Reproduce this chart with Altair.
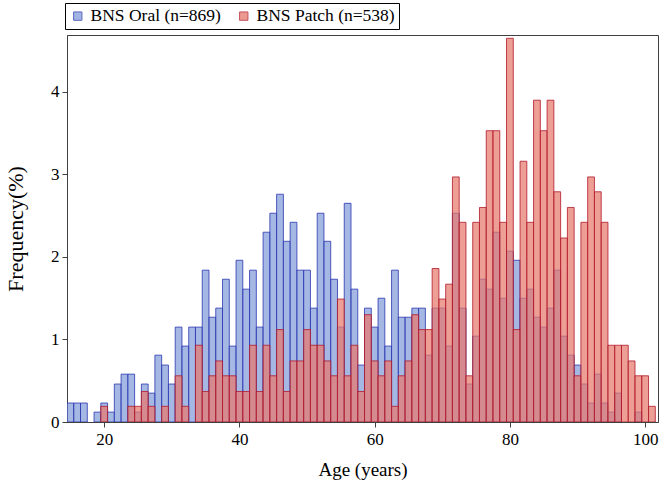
import altair as alt
import pandas as pd

ages = list(range(15, 102))
oral_pct = [0.23, 0.23, 0.23, 0.00, 0.12, 0.23, 0.12, 0.46, 0.58, 0.58,
            0.12, 0.46, 0.35, 0.81, 0.69, 0.46, 1.15, 0.92, 1.15, 1.15,
            1.84, 1.27, 1.38, 1.73, 0.92, 1.96, 1.61, 1.84, 1.15, 2.30,
            2.53, 2.76, 2.19, 2.42, 1.84, 1.84, 1.38, 2.53, 2.19, 1.73,
            1.15, 2.65, 1.61, 0.69, 1.38, 1.15, 1.50, 0.92, 1.84, 1.27,
            1.27, 1.38, 1.38, 0.81, 1.38, 1.38, 0.92, 2.53, 1.38, 0.46,
            1.04, 1.73, 1.61, 2.30, 1.50, 2.07, 1.96, 1.50, 1.61, 1.27,
            1.15, 1.38, 1.84, 1.04, 0.81, 0.69, 0.46, 0.23, 0.58, 0.23,
            0.12, 0.35, 0.00, 0.00, 0.12, 0.00, 0.00]
patch_pct = [0.00, 0.00, 0.00, 0.00, 0.00, 0.19, 0.00, 0.00, 0.00, 0.19,
             0.19, 0.37, 0.19, 0.00, 0.19, 0.00, 0.56, 0.19, 0.00, 0.93,
             0.37, 0.56, 0.74, 0.56, 0.56, 0.37, 0.37, 0.93, 0.37, 0.93,
             0.56, 1.12, 0.37, 0.74, 0.74, 1.12, 0.93, 0.93, 0.74, 0.56,
             1.49, 0.56, 0.93, 0.37, 1.30, 0.74, 0.56, 0.74, 0.19, 0.56,
             0.74, 1.30, 1.12, 1.12, 1.86, 1.49, 1.67, 2.97, 2.42, 0.56,
             2.42, 2.60, 3.53, 3.53, 2.42, 4.65, 1.12, 3.16, 2.42, 3.90,
             3.53, 3.90, 2.79, 2.23, 2.60, 0.56, 2.42, 2.97, 2.79, 2.42,
             0.93, 0.93, 0.93, 0.74, 0.56, 0.56, 0.19]

series_names = ["BNS Oral (n=869)", "BNS Patch (n=538)"]
fill_colors = ["#829CDA", "#E6786C"]
stroke_colors = ["#2A36B0", "#B2182B"]
x_ticks = [20, 40, 60, 80, 100]
y_ticks = [0, 1, 2, 3, 4]

rows = []
for name, vals in zip(series_names, [oral_pct, patch_pct]):
    for a, v in zip(ages, vals):
        rows.append({"age": a, "series": name, "pct": v})
df = pd.DataFrame(rows)
df = df[df["pct"] > 0].reset_index(drop=True)

SERIF = "Liberation Serif"

legend = alt.Legend(
    title=None, orient="none", legendX=-2, legendY=-32,
    direction="horizontal", strokeColor="black", padding=4,
    labelFont=SERIF, labelFontSize=17.5, labelColor="black",
    symbolType="square", symbolSize=70, symbolStrokeWidth=1,
    symbolOpacity=0.75, columnPadding=14, labelOffset=4,
)

chart = alt.Chart(df).transform_calculate(
    lo="datum.age - 0.5", hi="datum.age + 0.5"
).mark_bar(fillOpacity=0.72, strokeWidth=1, strokeOpacity=0.8, clip=True).encode(
    x=alt.X("lo:Q",
            scale=alt.Scale(domain=[14.5, 101.9], nice=False, zero=False),
            axis=alt.Axis(values=x_ticks, format="d", title="Age (years)",
                          tickSize=5, labelPadding=4, titlePadding=13)),
    x2="hi:Q",
    y=alt.Y("pct:Q", stack=None,
            scale=alt.Scale(domain=[0, 4.69], nice=False),
            axis=alt.Axis(values=y_ticks, format="d", title="Frequency(%)",
                          titleFontSize=22,
                          tickSize=5, labelPadding=3, titlePadding=23)),
    y2=alt.datum(0),
    fill=alt.Fill("series:N", scale=alt.Scale(domain=series_names, range=fill_colors), legend=legend),
    stroke=alt.Stroke("series:N", scale=alt.Scale(domain=series_names, range=stroke_colors), legend=legend),
    order=alt.Order("series:N"),
).properties(
    width=591, height=387,
    padding={"left": 67, "top": 35, "right": 3, "bottom": 72},
    autosize="none",
).configure_view(
    stroke="#404040", strokeWidth=1
).configure_axis(
    grid=False, domainColor="#404040", tickColor="#404040",
    labelFont=SERIF, labelFontSize=17, labelColor="black",
    titleFont=SERIF, titleFontSize=19, titleFontWeight="normal", titleColor="black",
)

chart.save("out.html", embed_options={"renderer": "svg", "actions": False})
